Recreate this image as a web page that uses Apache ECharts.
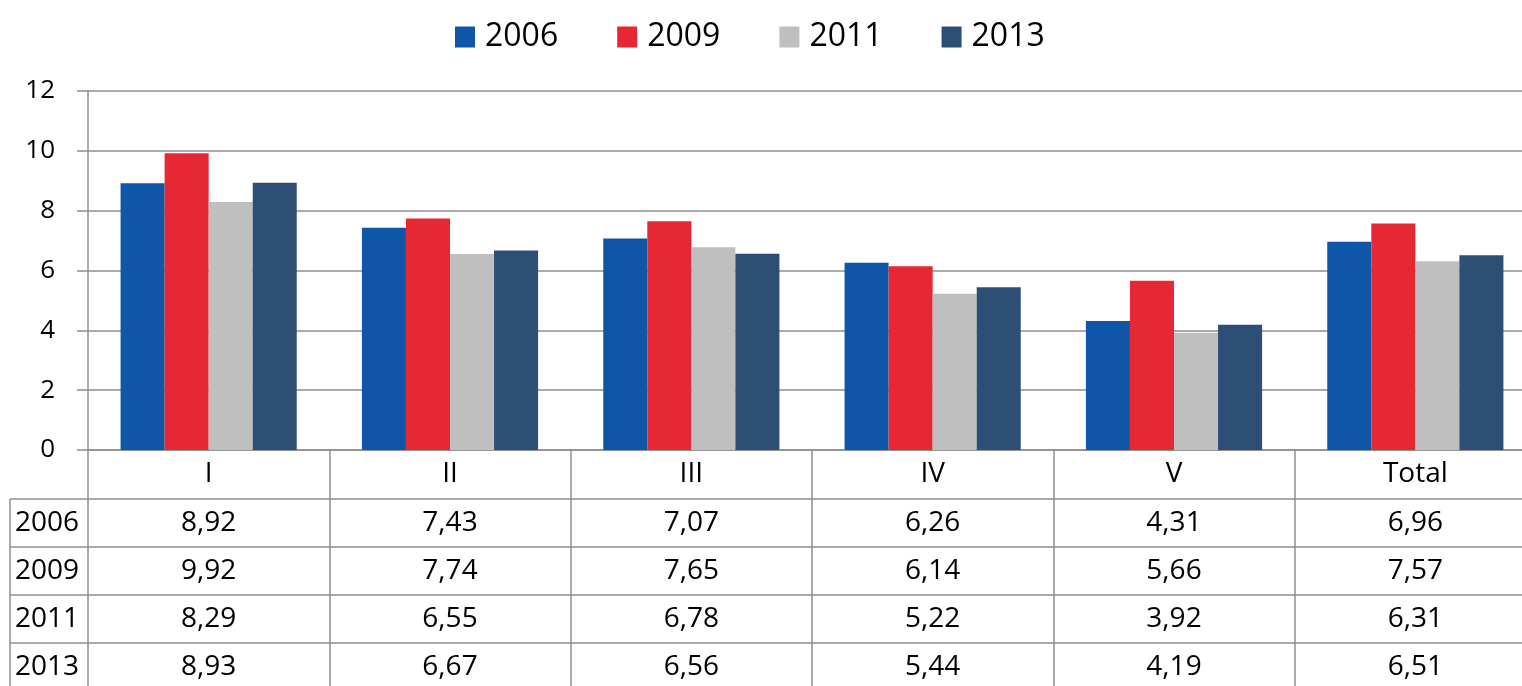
<!DOCTYPE html>
<html>
<head>
<meta charset="utf-8">
<script src="https://cdn.jsdelivr.net/npm/echarts@6/dist/echarts.min.js"></script>
<style>
  html, body { margin: 0; padding: 0; background: #fff; }
  #chart { width: 1522px; height: 686px; }
</style>
</head>
<body>
<div id="chart"></div>
<script>
const categories = ['I', 'II', 'III', 'IV', 'V', 'Total']
const years = ['2006', '2009', '2011', '2013']
const values2006 = [8.92, 7.43, 7.07, 6.26, 4.31, 6.96]
const values2009 = [9.92, 7.74, 7.65, 6.14, 5.66, 7.57]
const values2011 = [8.29, 6.55, 6.78, 5.22, 3.92, 6.31]
const values2013 = [8.93, 6.67, 6.56, 5.44, 4.19, 6.51]
const yMin = 0
const yMax = 12
const yStep = 2

const rows = [values2006, values2009, values2011, values2013]
const COLORS = ['#1056a8', '#e52834', '#bfbfbf', '#2e4f75']
const LINE = '#8f8f8f'
const FONT = '"Open Sans", "Liberation Sans", sans-serif'
const ROW_H = 48
const HEAD_H = 49

const fmt = v => v.toFixed(2).replace('.', ',')

const chart = echarts.init(document.getElementById('chart'))

// one extra x axis per table row, its line is the row's top border
const rowAxes = rows.map((vals, r) => ({
  type: 'category',
  data: categories,
  position: 'bottom',
  offset: HEAD_H + ROW_H * r,
  axisLine: { show: true, lineStyle: { color: LINE, width: 1.5 } },
  axisTick: { show: false },
  axisLabel: {
    margin: 10,
    fontSize: 28,
    lineHeight: 28,
    fontFamily: FONT,
    color: '#000',
    formatter: (value, idx) => fmt(vals[idx]),
  },
}))

chart.setOption({
  animation: false,
  legend: {
    left: 450,
    top: 16,
    itemWidth: 20,
    itemHeight: 21,
    itemGap: 59,
    icon: 'rect',
    textStyle: { fontSize: 32, fontFamily: FONT, color: '#000', padding: [0, 0, 0, 5] },
    data: years,
  },
  // the plot runs a little past the right edge of the picture
  grid: { left: 88, width: 1448, top: 91, bottom: 236, outerBoundsMode: 'none' },
  xAxis: [
    {
      type: 'category',
      data: categories,
      axisLine: { show: true, lineStyle: { color: LINE, width: 1.5 } },
      axisTick: { show: true, length: 236, lineStyle: { color: LINE, width: 1.5 } },
      axisLabel: { margin: 10, fontSize: 28, lineHeight: 28, fontFamily: FONT, color: '#000' },
    },
    ...rowAxes,
  ],
  yAxis: {
    type: 'value',
    min: yMin,
    max: yMax,
    interval: yStep,
    axisLine: { show: true, lineStyle: { color: LINE, width: 1.5 } },
    axisTick: { show: true, length: 11, lineStyle: { color: LINE, width: 1.5 } },
    axisLabel: { margin: 33, fontSize: 26, fontFamily: FONT, color: '#000' },
    splitLine: { show: true, lineStyle: { color: LINE, width: 1.5 } },
  },
  series: years.map((y, i) => ({
    name: y,
    type: 'bar',
    data: rows[i],
    barGap: '0%',
    barCategoryGap: '27%',
    itemStyle: { color: COLORS[i] },
  })),
})

// row labels and the left column of the table
const baseY = chart.convertToPixel({ yAxisIndex: 0 }, yMin)
const plotLeft = chart.convertToPixel({ xAxisIndex: 0 }, categories[0]) -
  (chart.convertToPixel({ xAxisIndex: 0 }, categories[1]) - chart.convertToPixel({ xAxisIndex: 0 }, categories[0])) / 2
const tableLeft = 10
const graphics = []
years.forEach((y, r) => {
  const top = baseY + HEAD_H + ROW_H * r
  graphics.push({
    type: 'line',
    shape: { x1: tableLeft, y1: top, x2: plotLeft, y2: top },
    style: { stroke: LINE, lineWidth: 1.5 },
  })
  graphics.push({
    type: 'text',
    x: tableLeft + 5,
    y: top + ROW_H / 2,
    style: { text: y, fontSize: 28, fontFamily: FONT, fill: '#000', verticalAlign: 'middle', align: 'left' },
  })
})
graphics.push({
  type: 'line',
  shape: { x1: tableLeft, y1: baseY + HEAD_H, x2: tableLeft, y2: 686 },
  style: { stroke: LINE, lineWidth: 1.5 },
})
chart.setOption({ graphic: graphics })
</script>
</body>
</html>
